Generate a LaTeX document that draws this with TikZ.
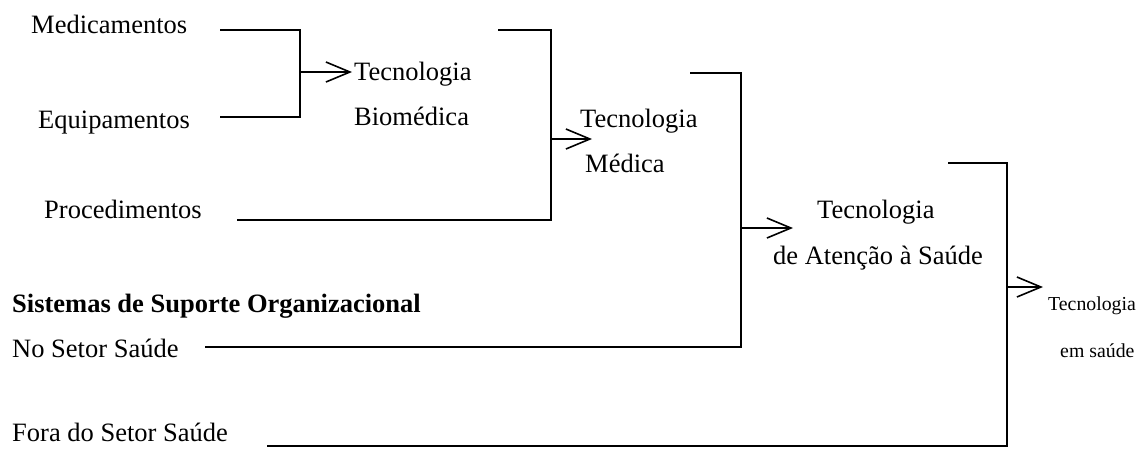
\documentclass[tikz,border=0pt]{standalone}
\usepackage{fontspec}
\setmainfont{Liberation Serif}
\usetikzlibrary{arrows.meta}
\begin{document}
\begin{tikzpicture}[x=1pt,y=-1pt,
  lbl/.style={anchor=base west,inner sep=0pt,font=\fontsize{26.5}{30}\selectfont},
  lblsmall/.style={anchor=base west,inner sep=0pt,font=\fontsize{19.8}{24}\selectfont},
  lblbold/.style={lbl,font=\fontsize{26.5}{30}\selectfont\bfseries},
  wire/.style={line width=1.6pt,line join=miter},
  feed/.style={line width=1.6pt,-{Straight Barb[length=24pt,width=20pt,line width=1.6pt]}}]
\useasboundingbox (0,0) rectangle (1140,448);

% inputs
\node[lbl] (med)  at (31,33)  {Medicamentos};
\node[lbl] (equ)  at (38,128) {Equipamentos};
\node[lbl] (proc) at (44,218) {Procedimentos};
\node[lblbold] (sis) at (12,312) {Sistemas de Suporte Organizacional};
\node[lbl] (nss)  at (12,357) {No Setor Saúde};
\node[lbl] (fss)  at (12,441) {Fora do Setor Saúde};

% outcomes
\node[lbl] (tb1) at (354,80)  {Tecnologia};
\node[lbl] (tb2) at (354,125) {Biomédica};
\node[lbl] (tm1) at (580,127) {Tecnologia};
\node[lbl] (tm2) at (585,172) {Médica};
\node[lbl] (ta1) at (817,218) {Tecnologia};
\node[lbl] (ta2) at (773,264) {de Atenção à Saúde};
\node[lblsmall] (ts1) at (1048,310) {Tecnologia};
\node[lblsmall] (ts2) at (1060,357) {em saúde};

% bracket joints
\coordinate (b1a) at (220,30);  \coordinate (b1b) at (300,30);
\coordinate (b1c) at (300,117); \coordinate (b1d) at (220,117);
\coordinate (b1m) at (300,72);  \coordinate (b1t) at (352,72);

\coordinate (b2a) at (498,30);  \coordinate (b2b) at (551,30);
\coordinate (b2c) at (551,220); \coordinate (b2d) at (237,220);
\coordinate (b2m) at (551,139); \coordinate (b2t) at (592,139);

\coordinate (b3a) at (690,73);  \coordinate (b3b) at (741,73);
\coordinate (b3c) at (741,347); \coordinate (b3d) at (205,347);
\coordinate (b3m) at (741,228); \coordinate (b3t) at (793,228);

\coordinate (b4a) at (948,163); \coordinate (b4b) at (1007,163);
\coordinate (b4c) at (1007,446); \coordinate (b4d) at (267,446);
\coordinate (b4m) at (1007,287); \coordinate (b4t) at (1043,287);

% brackets
\draw[wire] (b1a) -- (b1b) -- (b1c) -- (b1d);
\draw[feed] (b1m) -- (b1t);
\draw[wire] (b2a) -- (b2b) -- (b2c) -- (b2d);
\draw[feed] (b2m) -- (b2t);
\draw[wire] (b3a) -- (b3b) -- (b3c) -- (b3d);
\draw[feed] (b3m) -- (b3t);
\draw[wire] (b4a) -- (b4b) -- (b4c) -- (b4d);
\draw[feed] (b4m) -- (b4t);
\end{tikzpicture}
\end{document}
